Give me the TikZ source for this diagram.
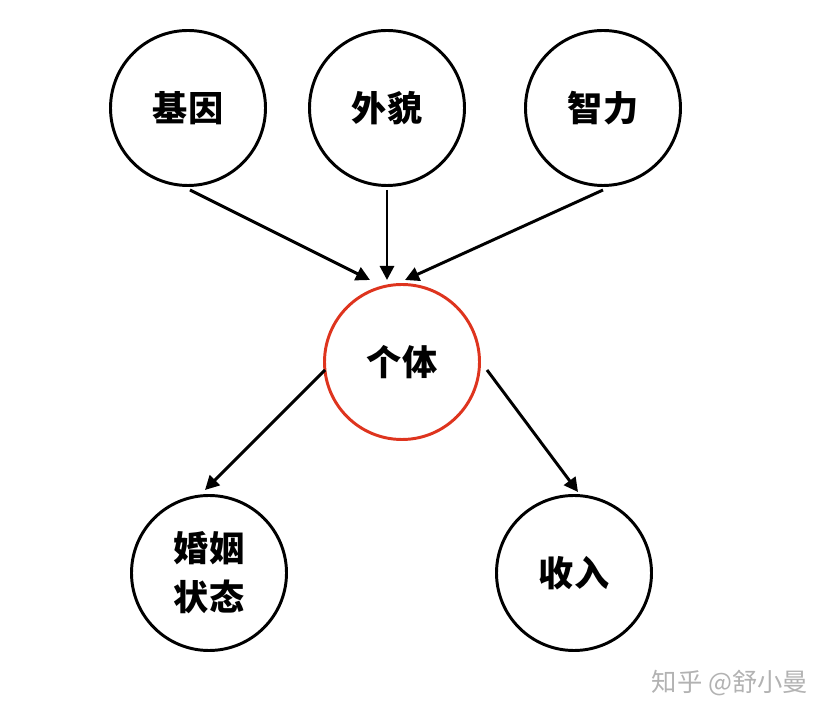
\documentclass[tikz,border=0pt]{standalone}
\usepackage{fontspec}
\newfontfamily\cjk{Noto Sans CJK SC}
\usetikzlibrary{shapes.geometric, arrows.meta, positioning}
\definecolor{gerenred}{RGB}{222,52,30}

\begin{document}
\begin{tikzpicture}[on grid, >={Triangle[length=10pt,width=10pt]}, line width=2.1pt]
    % Styles
    \tikzstyle{ball} = [draw, circle, minimum size=3.875cm, inner sep=0pt, align=center, font=\cjk\bfseries\fontsize{25}{35}\selectfont]
    \tikzstyle{redball} = [ball, draw=gerenred]
    \tikzstyle{watermark} = [font=\cjk\fontsize{18}{20}\selectfont, text=black!30]

    \useasboundingbox (0,0) rectangle (20.7,17.9);

    % Nodes
    \node (geti) [redball] at (10.05,8.85) {个体};
    \node (waimao) [ball, above left=6.35cm and 0.375cm of geti] {外貌};
    \node (jiyin) [ball, left=4.975cm of waimao] {基因};
    \node (zhili) [ball, right=5.4cm of waimao] {智力};
    \node (hunyin) [ball, below left=5.275cm and 4.825cm of geti] {婚姻\\状态};
    \node (shouru) [ball, right=9.125cm of hunyin] {收入};
    \node (zhihu) [watermark, below right=2.75cm and 3.9cm of shouru] {知乎 @舒小曼};

    % Arrow ends (gaps between circles and arrows)
    \coordinate (jiyin-out) at ([shift={(0.05,-2.05)}]jiyin.center);
    \coordinate (waimao-out) at ([shift={(0,-2.05)}]waimao.center);
    \coordinate (zhili-out) at ([shift={(0,-2.05)}]zhili.center);
    \coordinate (geti-in1) at ([shift={(-0.8,2.05)}]geti.center);
    \coordinate (geti-in2) at ([shift={(-0.375,2.05)}]geti.center);
    \coordinate (geti-in3) at ([shift={(0.075,2.05)}]geti.center);
    \coordinate (geti-out1) at ([shift={(-1.925,-0.2)}]geti.center);
    \coordinate (geti-out2) at ([shift={(2.125,-0.2)}]geti.center);
    \coordinate (hunyin-in) at ([shift={(-0.1,2.075)}]hunyin.center);
    \coordinate (shouru-in) at ([shift={(0.1,2.025)}]shouru.center);

    % Paths
    \draw [->] (jiyin-out) -- (geti-in1);
    \draw [->] (waimao-out) -- (geti-in2);
    \draw [->] (zhili-out) -- (geti-in3);

    \draw [->] (geti-out1) -- (hunyin-in);
    \draw [->] (geti-out2) -- (shouru-in);

\end{tikzpicture}
\end{document}
